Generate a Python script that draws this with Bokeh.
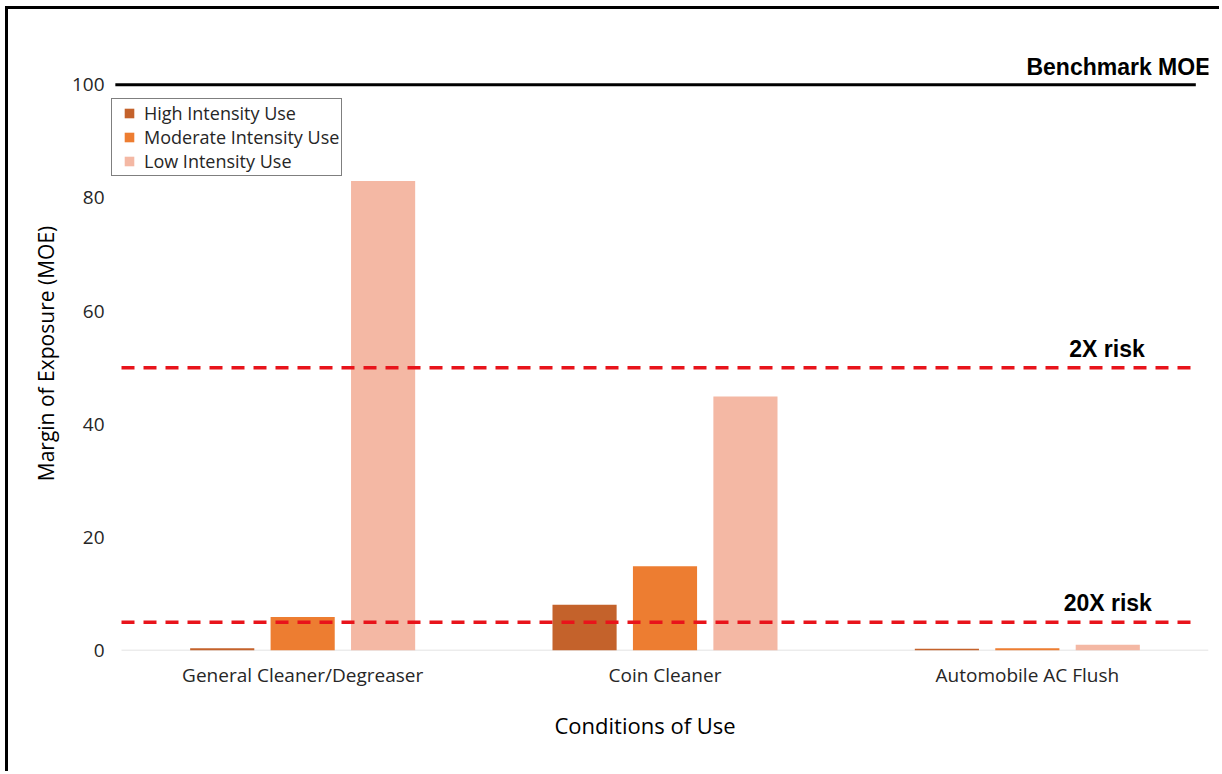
from bokeh.plotting import figure
from bokeh.models import ColumnDataSource, FixedTicker, Legend, LegendItem, Label, Range1d, Title
from bokeh.embed import file_html
from bokeh.resources import INLINE

# Margin of exposure by condition of use and intensity
conditions = ["General Cleaner/Degreaser", "Coin Cleaner", "Automobile AC Flush"]
high_use = [0.4, 8.1, 0.3]
moderate_use = [5.9, 14.9, 0.4]
low_use = [83.0, 44.9, 1.0]
series_names = ["High Intensity Use", "Moderate Intensity Use", "Low Intensity Use"]
series_colors = ["#C4622B", "#ED7D31", "#F4B8A4"]

benchmark_moe = 100
risk_levels = [50, 5]
risk_labels = ["2X risk", "20X risk"]
y_ticks = [0, 20, 40, 60, 80, 100]

FONT = "Open Sans"
BOLD_FONT = "Liberation Sans"

n = len(conditions)
p = figure(
    width=1214, height=765,
    x_range=Range1d(-0.0276, n), y_range=Range1d(0, 105),
    output_backend="svg", toolbar_location=None,
    min_border_left=103, min_border_right=14,
    min_border_top=47, min_border_bottom=124,
)
# heavy rule along the left and top edges of the panel
p.styles = {
    "margin-left": "8px", "margin-top": "9px",
    "border": "none",
    "box-shadow": "-3px -3px 0px 0px black",
    "clip-path": "inset(-4px 2px 2px -4px)",
}
p.outline_line_color = None
p.xgrid.visible = False
p.ygrid.visible = False

# zero baseline
p.line(x=[0, n], y=[0, 0], line_color="#D9D9D9", line_width=1.5)

# grouped bars
bar_width = 0.177
step = 0.222
swatches = []
nan = float("nan")
for k, (vals, color) in enumerate(zip([high_use, moderate_use, low_use], series_colors)):
    src = ColumnDataSource(dict(
        x=[i + 0.5 + (k - 1) * step for i in range(n)],
        top=vals,
    ))
    p.vbar(x="x", top="top", width=bar_width, bottom=0,
           fill_color=color, line_color=None, source=src)
    # square swatch used only for the legend
    swatches.append(p.scatter(x=[nan], y=[nan], marker="square", fill_color=color,
                              line_color=None))

# benchmark and risk reference lines
p.line(x=[-0.017, 2.965], y=[benchmark_moe, benchmark_moe], line_color="black", line_width=3)
for lvl in risk_levels:
    p.line(x=[0, 2.973], y=[lvl, lvl], line_color="#E8141B", line_width=3.5,
           line_dash="13 9")

p.add_layout(Label(x=3.0, y=benchmark_moe, x_offset=2, y_offset=5, text="Benchmark MOE",
                   text_align="right", text_baseline="bottom",
                   text_font=BOLD_FONT, text_font_style="bold", text_font_size="23px",
                   text_color="black"))
for lvl, txt, xc in zip(risk_levels, risk_labels, [2.72, 2.722]):
    p.add_layout(Label(x=xc, y=lvl, y_offset=6, text=txt,
                       text_align="center", text_baseline="bottom",
                       text_font=BOLD_FONT, text_font_style="bold", text_font_size="23px",
                       text_color="black"))

# axes
xa = p.xaxis[0]
xa.ticker = FixedTicker(ticks=[i + 0.5 for i in range(n)])
xa.major_label_overrides = {i + 0.5: c for i, c in enumerate(conditions)}
xa.major_tick_line_color = None
xa.major_tick_out = 0
xa.major_tick_in = 0
xa.minor_tick_line_color = None
xa.axis_line_color = None
xa.major_label_text_font = FONT
xa.major_label_text_font_size = "19px"
xa.major_label_text_color = "#262626"
xa.major_label_standoff = 11

# x-axis title, set off to the left of centre
p.add_layout(Title(text="Conditions of Use", align="left", offset=443,
                   text_font=FONT, text_font_size="22px", text_font_style="normal",
                   text_color="black", standoff=35), "below")

ya = p.yaxis[0]
ya.ticker = FixedTicker(ticks=y_ticks)
ya.major_tick_line_color = None
ya.major_tick_out = 0
ya.major_tick_in = 0
ya.minor_tick_line_color = None
ya.axis_line_color = None
ya.major_label_text_font = FONT
ya.major_label_text_font_size = "19px"
ya.major_label_text_color = "#262626"
ya.major_label_standoff = 7
ya.axis_label = "Margin of Exposure (MOE)"
ya.axis_label_text_font = FONT
ya.axis_label_text_font_size = "21px"
ya.axis_label_text_font_style = "normal"
ya.axis_label_text_color = "black"
ya.axis_label_standoff = 9

legend = Legend(
    items=[LegendItem(label=nm, renderers=[r]) for nm, r in zip(series_names, swatches)],
    location=(0, 474),
    border_line_color="black", border_line_width=1.5,
    background_fill_color="white", background_fill_alpha=1,
    label_text_font=FONT, label_text_font_size="18px", label_text_color="#262626",
    glyph_width=30, glyph_height=24, label_height=24, spacing=0,
    padding=2, margin=0, label_standoff=0,
)
p.add_layout(legend, "center")

open("out.html", "w").write(file_html(p, INLINE))
